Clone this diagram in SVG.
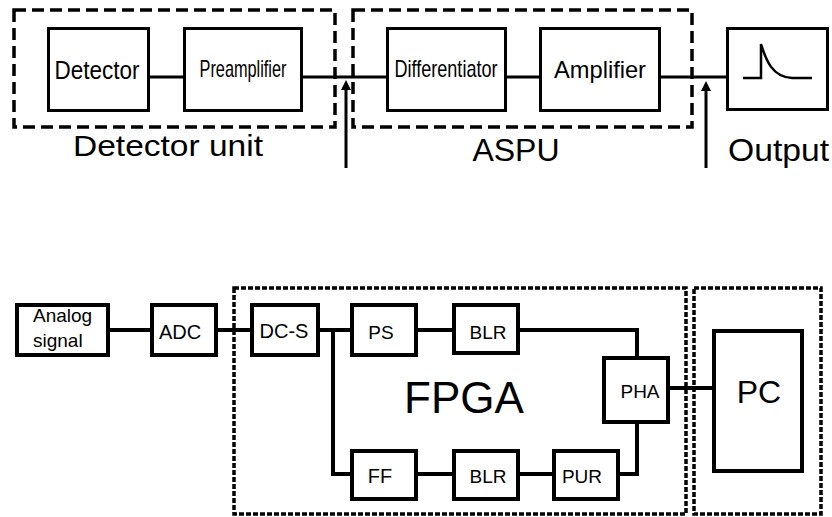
<svg xmlns="http://www.w3.org/2000/svg" width="832" height="517" viewBox="0 0 832 517">
<style>
text{font-family:"Liberation Sans",Arial,sans-serif;fill:#000}
.b3{fill:#fff;stroke:#000;stroke-width:3}
.b4{fill:#fff;stroke:#000;stroke-width:4}
.dash{fill:none;stroke:#000;stroke-width:3.5;stroke-dasharray:12 6}
.dot{fill:none;stroke:#000;stroke-width:3.5;stroke-dasharray:5 2}
.c3{fill:none;stroke:#000;stroke-width:3}
.c4{fill:none;stroke:#000;stroke-width:4}
.m{text-anchor:middle}
</style>
<rect width="832" height="517" fill="#fff"/>

<g id="detector-unit"><rect class="dash" x="14" y="10" width="321" height="117"/><text x="73" y="156" font-size="30" textLength="190" lengthAdjust="spacingAndGlyphs">Detector unit</text></g>
<g id="aspu"><rect class="dash" x="353" y="10" width="339" height="117"/><text x="516" y="161" font-size="32" class="m">ASPU</text></g>

<g id="connectors-top">
<path class="c3" d="M150,77 H183 M303,77 H386 M507,77 H539 M661,77 H726"/>
<path class="c3" d="M346,168 V88"/>
<path d="M346,80 L341,90 L351,90 z" fill="#000"/>
<path class="c3" d="M706,168 V89"/>
<path d="M706,81 L701,91 L711,91 z" fill="#000"/>
</g>

<g id="detector"><rect class="b3" x="48.5" y="28.5" width="100" height="82"/><text x="97" y="79" font-size="25" class="m" textLength="85" lengthAdjust="spacingAndGlyphs">Detector</text></g>
<g id="preamplifier"><rect class="b3" x="184.5" y="28.5" width="117" height="82"/><text x="243" y="77" font-size="24" class="m" textLength="87" lengthAdjust="spacingAndGlyphs">Preamplifier</text></g>
<g id="differentiator"><rect class="b3" x="387.5" y="28.5" width="118" height="82"/><text x="446" y="77" font-size="24" class="m" textLength="103" lengthAdjust="spacingAndGlyphs">Differentiator</text></g>
<g id="amplifier"><rect class="b3" x="540.5" y="28.5" width="119" height="82"/><text x="600" y="78" font-size="24" class="m" textLength="92" lengthAdjust="spacingAndGlyphs">Amplifier</text></g>
<g id="output"><rect class="b3" x="727.5" y="28.5" width="100" height="81"/>
<path d="M743,78 H761 V44 C766,60 772,77 792,78 H812" fill="none" stroke="#000" stroke-width="2.5"/>
<text x="728" y="161" font-size="32" textLength="101" lengthAdjust="spacingAndGlyphs">Output</text></g>

<g id="fpga"><rect class="dot" x="234" y="288" width="452" height="226"/><text x="464" y="413" font-size="44" class="m">FPGA</text></g>
<g id="pc-area"><rect class="dot" x="694" y="288" width="127" height="226"/></g>

<g id="connectors-bottom">
<path class="c4" d="M110,330 H150 M218,330 H250 M320,330 H350 M418,330 H452"/>
<path class="c4" d="M333,330 V474 H350"/>
<path class="c4" d="M520,330 H637 V357"/>
<path class="c4" d="M670,388 H712"/>
<path class="c4" d="M637,423 V474 H620"/>
<path class="c4" d="M418,474 H452 M520,474 H552"/>
</g>

<g id="analog"><rect class="b4" x="17" y="305" width="91" height="50"/><text x="33" y="322" font-size="19">Analog</text><text x="33" y="347" font-size="19">signal</text></g>
<g id="adc"><rect class="b4" x="152" y="305" width="64" height="50"/><text x="180" y="339" font-size="20" class="m">ADC</text></g>
<g id="dcs"><rect class="b4" x="252" y="305" width="66" height="50"/><text x="284" y="338" font-size="20" class="m">DC-S</text></g>
<g id="ps"><rect class="b4" x="352" y="305" width="64" height="50"/><text x="381" y="339" font-size="19" class="m">PS</text></g>
<g id="blr1"><rect class="b4" x="454" y="305" width="64" height="48"/><text x="488" y="339" font-size="19" class="m">BLR</text></g>
<g id="pha"><rect class="b4" x="604" y="358" width="64" height="64"/><text x="640" y="398" font-size="19" class="m">PHA</text></g>
<g id="pc"><rect class="b4" x="714" y="331" width="88" height="140"/><text x="759" y="403" font-size="32" class="m">PC</text></g>
<g id="ff"><rect class="b4" x="352" y="451" width="64" height="48"/><text x="380" y="483" font-size="20" class="m">FF</text></g>
<g id="blr2"><rect class="b4" x="454" y="451" width="64" height="48"/><text x="488" y="483" font-size="19" class="m">BLR</text></g>
<g id="pur"><rect class="b4" x="554" y="451" width="64" height="48"/><text x="582" y="483" font-size="19" class="m">PUR</text></g>
</svg>
